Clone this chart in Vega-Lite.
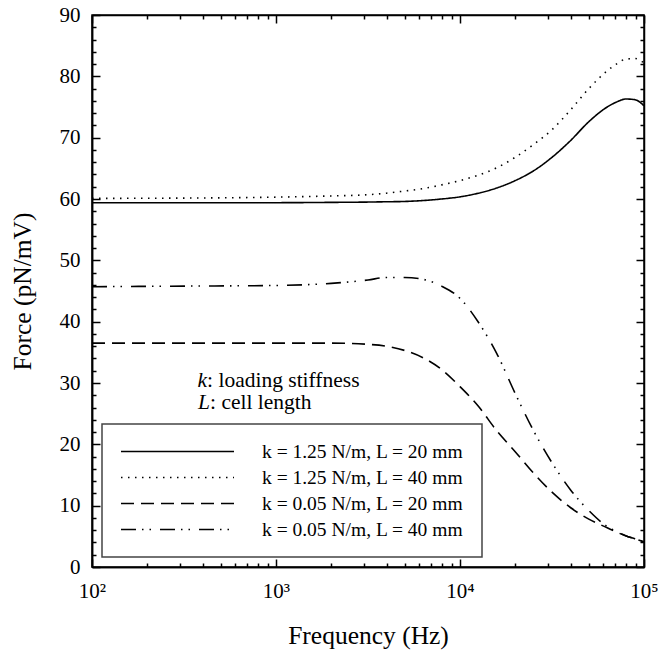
{
  "$schema": "https://vega.github.io/schema/vega-lite/v6.json",
  "width": 552,
  "height": 552,
  "autosize": {"type": "none"},
  "padding": {"left": 92, "top": 15, "right": 16, "bottom": 85},
  "config": {
    "font": "Liberation Serif, DejaVu Serif, serif",
    "view": {"stroke": "black", "strokeWidth": 1.5},
    "axis": {"domainColor": "black", "domainWidth": 1.5, "tickColor": "black", "tickWidth": 1.5, "labelColor": "black", "titleColor": "black", "labelFont": "Liberation Serif, DejaVu Serif, serif", "titleFont": "Liberation Serif, DejaVu Serif, serif", "grid": false, "labelFontSize": 21, "titleFontSize": 25.5, "titleFontWeight": "normal"},
    "legend": {"orient": "none", "legendX": 10, "legendY": 409, "fillColor": "white", "strokeColor": "#444", "strokeWidth": 1.5, "padding": 18, "symbolType": "stroke", "symbolSize": 12769, "clipHeight": 19, "symbolStrokeWidth": 1.6, "symbolStrokeColor": "black", "labelFontSize": 19.5, "labelFont": "Liberation Serif, DejaVu Serif, serif", "labelColor": "black", "labelOffset": 27, "rowPadding": 6, "labelLimit": 0}
  },
  "data": {"values": [
    {"f":100,"F":59.4,"s":"k = 1.25 N/m, L = 20 mm"},{"f":316,"F":59.4,"s":"k = 1.25 N/m, L = 20 mm"},{"f":1000,"F":59.4,"s":"k = 1.25 N/m, L = 20 mm"},{"f":1995,"F":59.45,"s":"k = 1.25 N/m, L = 20 mm"},{"f":3162,"F":59.5,"s":"k = 1.25 N/m, L = 20 mm"},{"f":3981,"F":59.55,"s":"k = 1.25 N/m, L = 20 mm"},{"f":5012,"F":59.6,"s":"k = 1.25 N/m, L = 20 mm"},{"f":6310,"F":59.75,"s":"k = 1.25 N/m, L = 20 mm"},{"f":7943,"F":60.0,"s":"k = 1.25 N/m, L = 20 mm"},{"f":10000,"F":60.35,"s":"k = 1.25 N/m, L = 20 mm"},{"f":12589,"F":60.95,"s":"k = 1.25 N/m, L = 20 mm"},{"f":15849,"F":61.8,"s":"k = 1.25 N/m, L = 20 mm"},{"f":19953,"F":63.0,"s":"k = 1.25 N/m, L = 20 mm"},{"f":25119,"F":64.6,"s":"k = 1.25 N/m, L = 20 mm"},{"f":31623,"F":66.8,"s":"k = 1.25 N/m, L = 20 mm"},{"f":39811,"F":69.5,"s":"k = 1.25 N/m, L = 20 mm"},{"f":50119,"F":72.6,"s":"k = 1.25 N/m, L = 20 mm"},{"f":63096,"F":75.0,"s":"k = 1.25 N/m, L = 20 mm"},{"f":70795,"F":75.8,"s":"k = 1.25 N/m, L = 20 mm"},{"f":79433,"F":76.3,"s":"k = 1.25 N/m, L = 20 mm"},{"f":89125,"F":76.2,"s":"k = 1.25 N/m, L = 20 mm"},{"f":100000,"F":75.2,"s":"k = 1.25 N/m, L = 20 mm"},
    {"f":100,"F":60.1,"s":"k = 1.25 N/m, L = 40 mm"},{"f":316,"F":60.15,"s":"k = 1.25 N/m, L = 40 mm"},{"f":1000,"F":60.3,"s":"k = 1.25 N/m, L = 40 mm"},{"f":1995,"F":60.5,"s":"k = 1.25 N/m, L = 40 mm"},{"f":3162,"F":60.7,"s":"k = 1.25 N/m, L = 40 mm"},{"f":3981,"F":60.95,"s":"k = 1.25 N/m, L = 40 mm"},{"f":5012,"F":61.3,"s":"k = 1.25 N/m, L = 40 mm"},{"f":6310,"F":61.7,"s":"k = 1.25 N/m, L = 40 mm"},{"f":7943,"F":62.3,"s":"k = 1.25 N/m, L = 40 mm"},{"f":10000,"F":63.0,"s":"k = 1.25 N/m, L = 40 mm"},{"f":12589,"F":63.9,"s":"k = 1.25 N/m, L = 40 mm"},{"f":15849,"F":65.1,"s":"k = 1.25 N/m, L = 40 mm"},{"f":19953,"F":66.8,"s":"k = 1.25 N/m, L = 40 mm"},{"f":25119,"F":68.9,"s":"k = 1.25 N/m, L = 40 mm"},{"f":31623,"F":71.3,"s":"k = 1.25 N/m, L = 40 mm"},{"f":39811,"F":74.5,"s":"k = 1.25 N/m, L = 40 mm"},{"f":50119,"F":78.0,"s":"k = 1.25 N/m, L = 40 mm"},{"f":63096,"F":80.9,"s":"k = 1.25 N/m, L = 40 mm"},{"f":70795,"F":82.0,"s":"k = 1.25 N/m, L = 40 mm"},{"f":79433,"F":82.8,"s":"k = 1.25 N/m, L = 40 mm"},{"f":89125,"F":82.9,"s":"k = 1.25 N/m, L = 40 mm"},{"f":100000,"F":82.2,"s":"k = 1.25 N/m, L = 40 mm"},
    {"f":100,"F":36.5,"s":"k = 0.05 N/m, L = 20 mm"},{"f":316,"F":36.5,"s":"k = 0.05 N/m, L = 20 mm"},{"f":1000,"F":36.5,"s":"k = 0.05 N/m, L = 20 mm"},{"f":1995,"F":36.5,"s":"k = 0.05 N/m, L = 20 mm"},{"f":3162,"F":36.3,"s":"k = 0.05 N/m, L = 20 mm"},{"f":3981,"F":36.0,"s":"k = 0.05 N/m, L = 20 mm"},{"f":5012,"F":35.3,"s":"k = 0.05 N/m, L = 20 mm"},{"f":6310,"F":34.1,"s":"k = 0.05 N/m, L = 20 mm"},{"f":7943,"F":32.2,"s":"k = 0.05 N/m, L = 20 mm"},{"f":10000,"F":29.4,"s":"k = 0.05 N/m, L = 20 mm"},{"f":12589,"F":26.2,"s":"k = 0.05 N/m, L = 20 mm"},{"f":15849,"F":22.2,"s":"k = 0.05 N/m, L = 20 mm"},{"f":19953,"F":18.8,"s":"k = 0.05 N/m, L = 20 mm"},{"f":25119,"F":15.3,"s":"k = 0.05 N/m, L = 20 mm"},{"f":31623,"F":12.2,"s":"k = 0.05 N/m, L = 20 mm"},{"f":39811,"F":9.7,"s":"k = 0.05 N/m, L = 20 mm"},{"f":50119,"F":7.8,"s":"k = 0.05 N/m, L = 20 mm"},{"f":63096,"F":6.4,"s":"k = 0.05 N/m, L = 20 mm"},{"f":70795,"F":5.7,"s":"k = 0.05 N/m, L = 20 mm"},{"f":79433,"F":5.1,"s":"k = 0.05 N/m, L = 20 mm"},{"f":89125,"F":4.6,"s":"k = 0.05 N/m, L = 20 mm"},{"f":100000,"F":4.1,"s":"k = 0.05 N/m, L = 20 mm"},
    {"f":100,"F":45.7,"s":"k = 0.05 N/m, L = 40 mm"},{"f":316,"F":45.8,"s":"k = 0.05 N/m, L = 40 mm"},{"f":1000,"F":45.9,"s":"k = 0.05 N/m, L = 40 mm"},{"f":1995,"F":46.25,"s":"k = 0.05 N/m, L = 40 mm"},{"f":3162,"F":46.8,"s":"k = 0.05 N/m, L = 40 mm"},{"f":3981,"F":47.2,"s":"k = 0.05 N/m, L = 40 mm"},{"f":5012,"F":47.2,"s":"k = 0.05 N/m, L = 40 mm"},{"f":6310,"F":46.9,"s":"k = 0.05 N/m, L = 40 mm"},{"f":7943,"F":45.8,"s":"k = 0.05 N/m, L = 40 mm"},{"f":10000,"F":43.8,"s":"k = 0.05 N/m, L = 40 mm"},{"f":12589,"F":39.9,"s":"k = 0.05 N/m, L = 40 mm"},{"f":15849,"F":34.8,"s":"k = 0.05 N/m, L = 40 mm"},{"f":19953,"F":28.3,"s":"k = 0.05 N/m, L = 40 mm"},{"f":25119,"F":22.2,"s":"k = 0.05 N/m, L = 40 mm"},{"f":31623,"F":17.0,"s":"k = 0.05 N/m, L = 40 mm"},{"f":39811,"F":12.6,"s":"k = 0.05 N/m, L = 40 mm"},{"f":50119,"F":9.2,"s":"k = 0.05 N/m, L = 40 mm"},{"f":63096,"F":6.6,"s":"k = 0.05 N/m, L = 40 mm"},{"f":70795,"F":5.8,"s":"k = 0.05 N/m, L = 40 mm"},{"f":79433,"F":5.1,"s":"k = 0.05 N/m, L = 40 mm"},{"f":89125,"F":4.6,"s":"k = 0.05 N/m, L = 40 mm"},{"f":100000,"F":4.1,"s":"k = 0.05 N/m, L = 40 mm"}
  ]},
  "layer": [
    {
      "mark": {"type": "line", "color": "black", "strokeWidth": 1.6, "interpolate": "monotone"},
      "encoding": {
        "x": {"field": "f", "type": "quantitative", "scale": {"type": "log", "domain": [100, 100000], "nice": false},
          "axis": {"orient": "bottom", "values": [100, 1000, 10000, 100000], "ticks": false, "labelPadding": 13, "labelFlush": false, "labelOverlap": false, "labelBound": false,
            "labelExpr": "datum.value == 100 ? '10²' : datum.value == 1000 ? '10³' : datum.value == 10000 ? '10⁴' : '10⁵'",
            "title": "Frequency (Hz)", "titlePadding": 22}},
        "y": {"field": "F", "type": "quantitative", "scale": {"domain": [0, 90], "nice": false},
          "axis": {"orient": "left", "values": [0, 10, 20, 30, 40, 50, 60, 70, 80, 90], "ticks": false, "labelPadding": 12, "labelOverlap": false, "labelFlush": false, "title": "Force (pN/mV)", "titlePadding": 24}},
        "strokeDash": {"field": "s", "type": "nominal",
          "scale": {"domain": ["k = 1.25 N/m, L = 20 mm", "k = 1.25 N/m, L = 40 mm", "k = 0.05 N/m, L = 20 mm", "k = 0.05 N/m, L = 40 mm"],
                    "range": [[1, 0], [1.5, 5.5], [13, 7], [15, 6, 1.5, 6, 1.5, 9]]},
          "legend": {"title": null}}
      }
    },
    {
      "mark": {"type": "line", "opacity": 0},
      "encoding": {
        "x": {"field": "f", "type": "quantitative",
          "axis": {"orient": "bottom", "labels": false, "title": null,
            "values": [100,200,300,400,500,600,700,800,900,1000,2000,3000,4000,5000,6000,7000,8000,9000,10000,20000,30000,40000,50000,60000,70000,80000,90000,100000],
            "tickSize": {"condition": {"test": "datum.value == 100 || datum.value == 1000 || datum.value == 10000 || datum.value == 100000", "value": -8}, "value": -4}}},
        "y": {"field": "F", "type": "quantitative",
          "axis": {"orient": "left", "labels": false, "title": null,
            "values": [0,2,4,6,8,10,12,14,16,18,20,22,24,26,28,30,32,34,36,38,40,42,44,46,48,50,52,54,56,58,60,62,64,66,68,70,72,74,76,78,80,82,84,86,88,90],
            "tickSize": {"condition": {"test": "datum.value % 10 == 0", "value": -8}, "value": -4}}}
      }
    },
    {
      "mark": {"type": "line", "opacity": 0},
      "encoding": {
        "x": {"field": "f", "type": "quantitative",
          "axis": {"orient": "top", "labels": false, "title": null,
            "values": [100,200,300,400,500,600,700,800,900,1000,2000,3000,4000,5000,6000,7000,8000,9000,10000,20000,30000,40000,50000,60000,70000,80000,90000,100000],
            "tickSize": {"condition": {"test": "datum.value == 100 || datum.value == 1000 || datum.value == 10000 || datum.value == 100000", "value": -8}, "value": -4}}},
        "y": {"field": "F", "type": "quantitative",
          "axis": {"orient": "right", "labels": false, "title": null,
            "values": [0,2,4,6,8,10,12,14,16,18,20,22,24,26,28,30,32,34,36,38,40,42,44,46,48,50,52,54,56,58,60,62,64,66,68,70,72,74,76,78,80,82,84,86,88,90],
            "tickSize": {"condition": {"test": "datum.value % 10 == 0", "value": -8}, "value": -4}}}
      }
    },
    {
      "data": {"values": [{"f": 422, "F": 29.35, "t": "k"}, {"f": 438, "F": 25.76, "t": "L"}]},
      "mark": {"type": "text", "align": "right", "baseline": "alphabetic", "fontStyle": "italic", "fontSize": 21.5, "font": "Liberation Serif, DejaVu Serif, serif", "color": "black"},
      "encoding": {
        "x": {"field": "f", "type": "quantitative", "axis": null},
        "y": {"field": "F", "type": "quantitative", "axis": null},
        "text": {"field": "t"}
      }
    },
    {
      "data": {"values": [{"f": 422, "F": 29.35, "t": ": loading stiffness"}, {"f": 438, "F": 25.76, "t": ": cell length"}]},
      "mark": {"type": "text", "align": "left", "baseline": "alphabetic", "fontSize": 21.5, "font": "Liberation Serif, DejaVu Serif, serif", "color": "black"},
      "encoding": {
        "x": {"field": "f", "type": "quantitative", "axis": null},
        "y": {"field": "F", "type": "quantitative", "axis": null},
        "text": {"field": "t"}
      }
    }
  ],
  "resolve": {"axis": {"x": "independent", "y": "independent"}}
}
